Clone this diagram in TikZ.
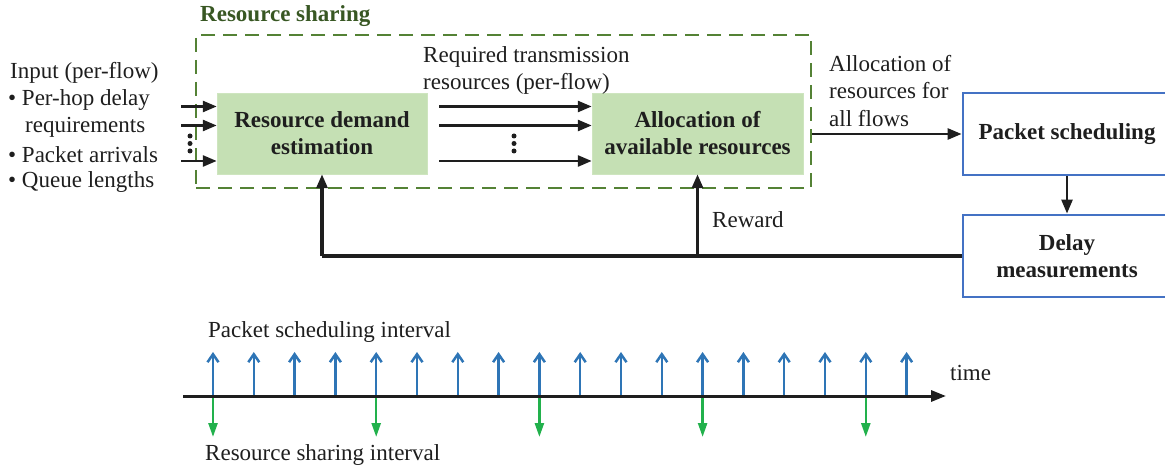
\documentclass[tikz,border=0pt]{standalone}
\usepackage{fontspec}
\setmainfont{Liberation Serif}
\usetikzlibrary{arrows.meta}
\definecolor{gfill}{RGB}{197,224,180}
\definecolor{gdash}{RGB}{84,130,53}
\definecolor{gtitle}{RGB}{56,87,35}
\definecolor{bbox}{RGB}{68,114,196}
\definecolor{tblue}{RGB}{46,117,182}
\definecolor{tgreen}{RGB}{34,177,76}
\definecolor{ink}{RGB}{30,30,30}
\begin{document}
\begin{tikzpicture}[x=1pt,y=-1pt,
  txt/.style={inner sep=0pt,font=\fontsize{23}{27.5}\selectfont,text=ink},
  btxt/.style={inner sep=0pt,font=\fontsize{23}{27}\selectfont\bfseries,text=ink,align=center},
  greenbox/.style={fill=gfill,draw=gfill!85!white,line width=0.5pt,minimum width=210pt,minimum height=81pt,btxt},
  bluebox/.style={draw=bbox,line width=2.8pt,fill=white,minimum width=208pt,minimum height=82pt,btxt},
  conn/.style={draw=ink,line width=2.6pt,-{Triangle[length=14pt,width=11pt]}},
  fbconn/.style={draw=ink,line width=3.2pt,-{Triangle[length=14pt,width=11pt]}},
  line/.style={draw=ink,line width=3.2pt},
  dotc/.style={fill=ink,circle,inner sep=0pt,minimum size=5pt},
  bluetick/.style={draw=tblue,line width=2.5pt,-{Straight Barb[length=8pt,width=11pt,line width=2.5pt]}},
  greentick/.style={draw=tgreen,line width=2.5pt,-{Triangle[length=14pt,width=9pt]}}
]
\useasboundingbox (0,0) rectangle (1165,470);

% resource sharing dashed box
\node[draw=gdash,line width=2.3pt,dash pattern=on 14pt off 8pt,minimum width=615pt,minimum height=153pt,inner sep=0pt] (rs) at (503.5,111.5) {};
\node[inner sep=0pt,font=\fontsize{23}{27}\selectfont\bfseries,text=gtitle,anchor=west] (rstitle) at (200,16) {Resource sharing};

\node[greenbox] (rde) at (322,133.5) {Resource demand\\estimation};
\node[greenbox,minimum width=211pt] (alloc) at (697.5,133.5) {Allocation of\\available resources};

\node[bluebox] (ps) at (1067,134) {Packet scheduling};
\node[bluebox] (dm) at (1067,256) {Delay\\measurements};

% input text
\node[txt,anchor=west] (in0) at (10,73) {Input (per-flow)};
\node[txt,anchor=west] (in1) at (8,100) {\textbullet\ Per-hop delay};
\node[txt,anchor=west] (in2) at (25,127) {requirements};
\node[txt,anchor=west] (in3) at (8,155) {\textbullet\ Packet arrivals};
\node[txt,anchor=west] (in4) at (8,182) {\textbullet\ Queue lengths};

% input arrows
\coordinate (ia1) at (181,106.5);
\coordinate (ia2) at (181,125.5);
\coordinate (ia3) at (181,161);
\draw[conn] (ia1) -- (ia1 -| rde.west);
\draw[conn] (ia2) -- (ia2 -| rde.west);
\draw[conn] (ia3) -- (ia3 -| rde.west);
\node[dotc] (d1) at (190,136) {};
\node[dotc] (d2) at (190,143.5) {};
\node[dotc] (d3) at (190,151) {};

% middle arrows
\coordinate (ma1) at (439,106.5);
\coordinate (ma2) at (439,125.5);
\coordinate (ma3) at (439,161);
\draw[conn] (ma1) -- (ma1 -| alloc.west);
\draw[conn] (ma2) -- (ma2 -| alloc.west);
\draw[conn] (ma3) -- (ma3 -| alloc.west);
\node[dotc] (m1) at (514,136) {};
\node[dotc] (m2) at (514,143.5) {};
\node[dotc] (m3) at (514,151) {};
\node[txt,anchor=west,align=left] (req) at (423,70.5) {Required transmission\\resources (per-flow)};

% output
\draw[conn] (rs.east |- ps.west) -- (ps.west);
\node[txt,anchor=west,align=left] (aor) at (829,91) {Allocation of\\resources for\\all flows};

\draw[conn] (ps.south) -- (dm.north);

% feedback
\draw[line] (dm.west) -- (rde.south |- dm.west);
\draw[fbconn] (rde.south |- dm.west) -- (rde.south);
\draw[fbconn] (alloc.south |- dm.west) -- (alloc.south);
\node[txt,anchor=west] (rew) at (712,220) {Reward};

% timeline
\coordinate (t0) at (183,396);
\coordinate (t1) at (946,396);
\foreach \i in {0,...,17} {
  \draw[bluetick] (213+40.8*\i,396) -- (213+40.8*\i,352);
}
\foreach \i in {0,4,8,12,16} {
  \draw[greentick] (213+40.8*\i,396) -- (213+40.8*\i,437);
}
\draw[draw=ink,line width=3pt,-{Triangle[length=15pt,width=11pt]}] (t0) -- (t1);
\node[txt,anchor=west] (time) at (950,373) {time};
\node[txt,anchor=west] (psi) at (208,332) {Packet scheduling interval};
\node[txt,anchor=west] (rsi) at (205,455) {Resource sharing interval};
\end{tikzpicture}
\end{document}
